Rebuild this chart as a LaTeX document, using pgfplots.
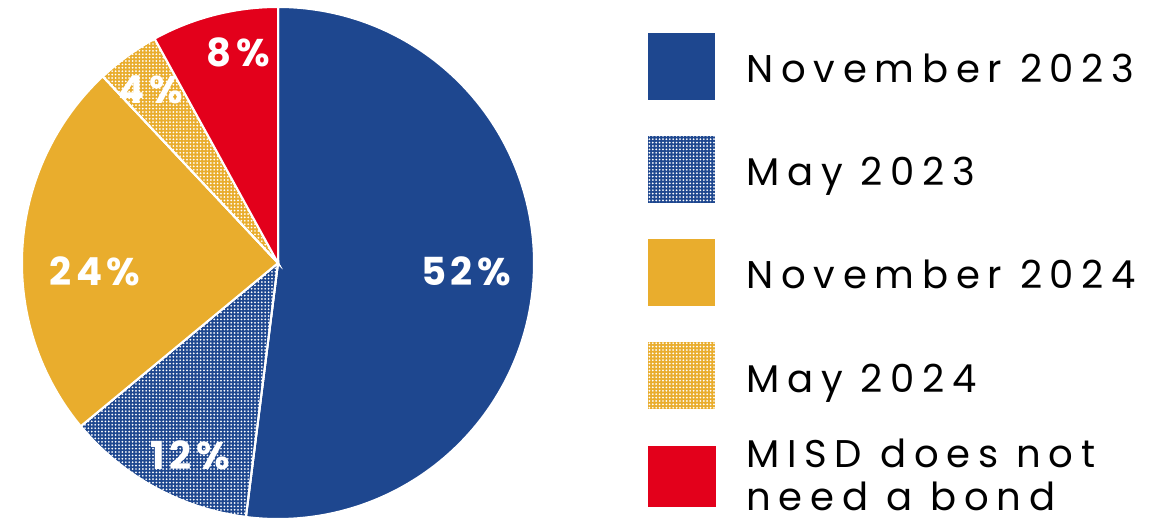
\documentclass[border=0pt]{standalone}
\usepackage{pgfplots}
\pgfplotsset{compat=1.18}
\usetikzlibrary{patterns.meta}
\usepackage{fontspec}
\newfontfamily\legfont[LetterSpace=20]{Poppins}
\newfontfamily\labfont[LetterSpace=12]{Poppins}
\definecolor{cblue}{RGB}{30,71,143}
\definecolor{cyel}{RGB}{233,173,45}
\definecolor{cred}{RGB}{227,0,27}
\tikzset{
  dotpat/.style={postaction={pattern={Dots[radius=0.48pt,distance=1.7pt]},pattern color=white}},
}
% pie centre and radius in pixel units of the axis
\def\cx{278}\def\cy{257}\def\rr{256}
% \slice{cumulative percent before}{percent}{style}
\newcommand\slice[3]{%
  \addplot[draw=white,line width=1pt,#3,domain=90-3.6*(#1+#2):90-3.6*#1,samples=150,variable=\t]
    ({\cx+\rr*cos(\t)},{\cy+\rr*sin(\t)}) -- (\cx,\cy) -- cycle;}
\newcommand\legtext{\legfont\fontsize{19.3}{22}\selectfont}
\newcommand\labtext{\labfont\bfseries\fontsize{19.3}{22}\selectfont}
\begin{document}
\begin{tikzpicture}
\begin{axis}[width=581.5pt,height=260pt,scale only axis,
  xmin=0,xmax=1163,ymin=0,ymax=520,hide axis,clip=false]
% data: November 2023 52, May 2023 12, November 2024 24, May 2024 4, MISD does not need a bond 8
\slice{0}{52}{fill=cblue}
\slice{52}{12}{fill=cblue,dotpat}
\slice{64}{24}{fill=cyel}
\slice{88}{4}{fill=cyel,dotpat}
\slice{92}{8}{fill=cred}
% slice labels
\node[white] at (466,249) {\labtext 52\%};
\node[white] at (190,65) {\labtext 12\%};
\node[white] at (95,249) {\labtext 24\%};
\node[white] at (151,430) {\labtext 4\%};
\node[white] at (238,468) {\labtext 8\%};
% legend
\fill[cblue] (648,420) rectangle (715,487);
\fill[cblue,dotpat] (648,317) rectangle (715,384);
\fill[cyel] (648,214) rectangle (715,281);
\fill[cyel,dotpat] (648,111) rectangle (715,178);
\fill[cred] (648,13) rectangle (716,74);
\node[anchor=base west,inner sep=0pt] at (746,437) {\legtext November 2023};
\node[anchor=base west,inner sep=0pt] at (746,334) {\legtext May 2023};
\node[anchor=base west,inner sep=0pt] at (746,231) {\legtext November 2024};
\node[anchor=base west,inner sep=0pt] at (746,127) {\legtext May 2024};
\node[anchor=base west,inner sep=0pt] at (746,52) {\legtext MISD does not};
\node[anchor=base west,inner sep=0pt] at (746,9) {\legtext need a bond};
\end{axis}
\pgfresetboundingbox
\path (current axis.south west) rectangle (current axis.north east);
\end{tikzpicture}
\end{document}
